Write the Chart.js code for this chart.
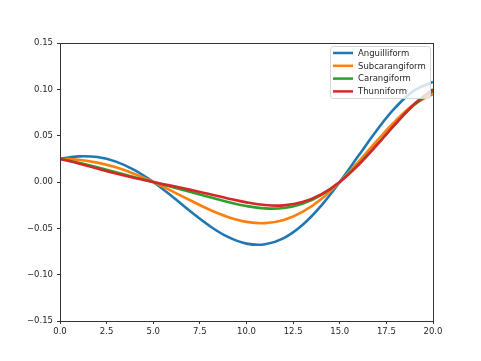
<!DOCTYPE html>
<html>
<head>
<meta charset="utf-8">
<script src="https://cdn.jsdelivr.net/npm/chart.js@4.4.1/dist/chart.umd.min.js"></script>
<style>
  html, body { margin: 0; padding: 0; background: #fff; }
  #wrap { width: 481px; height: 361px; }
</style>
</head>
<body>
<div id="wrap"><canvas id="myChart" width="481" height="361"></canvas></div>
<script>
// sample positions along the body (x axis)
const xs = [0, 1, 2, 3, 4, 5, 6, 7, 8, 9, 10, 11, 12, 13, 14, 15, 16, 17, 18, 19, 20];

// lateral displacement
const anguilliform = [0.025, 0.0277, 0.0269, 0.0220, 0.0129, 0, -0.0154, -0.0318, -0.0471, -0.0593, -0.0665,
    -0.0672, -0.0605, -0.0464, -0.0257, 0, 0.0282, 0.0562, 0.0807, 0.0988, 0.108];
const subcarangiform = [0.025, 0.0240, 0.0209, 0.0158, 0.0087, 0, -0.0098, -0.0200, -0.0297, -0.0377, -0.0430,
    -0.0444, -0.0410, -0.0323, -0.0185, 0, 0.0217, 0.0446, 0.0662, 0.0840, 0.095];
const carangiform = [0.025, 0.0208, 0.0158, 0.0105, 0.0052, 0, -0.0053, -0.0107, -0.0163, -0.0216, -0.0260,
    -0.0285, -0.0281, -0.0236, -0.0143, 0, 0.0188, 0.0405, 0.0630, 0.0833, 0.098];
const thunniform = [0.025, 0.0200, 0.0145, 0.0092, 0.0044, 0, -0.0042, -0.0085, -0.0130, -0.0177, -0.0220,
    -0.0249, -0.0252, -0.0217, -0.0134, 0, 0.0183, 0.0400, 0.0630, 0.0842, 0.100];

const seriesNames = ['Anguilliform', 'Subcarangiform', 'Carangiform', 'Thunniform'];
const seriesData = [anguilliform, subcarangiform, carangiform, thunniform];
const colors = ['#1f77b4', '#ff7f0e', '#2ca02c', '#d62728'];

const xTicks = [0, 2.5, 5, 7.5, 10, 12.5, 15, 17.5, 20];
const yTicks = [-0.15, -0.10, -0.05, 0, 0.05, 0.10, 0.15];

const axisColor = '#333';
const textColor = '#262626';
const font = { family: 'DejaVu Sans', size: 8.5 };

// box around the plot area
const frame = {
    id: 'frame',
    afterDatasetsDraw(chart) {
        const a = chart.chartArea;
        const ctx = chart.ctx;
        ctx.save();
        ctx.strokeStyle = axisColor;
        ctx.lineWidth = 1;
        ctx.strokeRect(Math.round(a.left) + 0.5, Math.round(a.top) + 0.5,
            Math.round(a.right - a.left), Math.round(a.bottom - a.top));
        ctx.restore();
    }
};

// matplotlib style legend in the upper right corner
const boxLegend = {
    id: 'boxLegend',
    afterDraw(chart) {
        const ctx = chart.ctx;
        const a = chart.chartArea;
        const w = 100, h = 52, rowH = 12.8;
        const x0 = Math.round(a.right) - 3 - w, y0 = Math.round(a.top) + 3;
        ctx.save();
        ctx.beginPath();
        ctx.roundRect(x0 + 0.5, y0 + 0.5, w, h, 3);
        ctx.fillStyle = 'rgba(255,255,255,0.8)';
        ctx.fill();
        ctx.strokeStyle = '#d6d6d6';
        ctx.lineWidth = 1;
        ctx.stroke();
        ctx.font = '8.5px "DejaVu Sans"';
        ctx.textBaseline = 'middle';
        chart.data.datasets.forEach((ds, i) => {
            const y = y0 + 7 + i * rowH;
            ctx.strokeStyle = ds.borderColor;
            ctx.lineWidth = 2.5;
            ctx.beginPath();
            ctx.moveTo(x0 + 3, y);
            ctx.lineTo(x0 + 23, y);
            ctx.stroke();
            ctx.fillStyle = textColor;
            ctx.fillText(ds.label, x0 + 28, y + 0.5);
        });
        ctx.restore();
    }
};

const ctx = document.getElementById('myChart').getContext('2d');
new Chart(ctx, {
    type: 'line',
    data: {
        datasets: seriesNames.map((name, i) => ({
            label: name,
            data: xs.map((x, j) => ({ x: x, y: seriesData[i][j] })),
            borderColor: colors[i],
            backgroundColor: colors[i],
            borderWidth: 2.6,
            pointRadius: 0,
            tension: 0.4,
            fill: false,
            order: seriesNames.length - i
        }))
    },
    options: {
        responsive: false,
        animation: false,
        layout: { padding: { left: 0, right: 48, top: 43, bottom: 0 } },
        plugins: {
            legend: { display: false },
            tooltip: { enabled: false }
        },
        scales: {
            x: {
                type: 'linear',
                min: 0,
                max: 20,
                afterBuildTicks: s => { s.ticks = xTicks.map(v => ({ value: v })); },
                afterFit: s => { s.height = 40; },
                grid: { drawOnChartArea: false, drawTicks: true, tickLength: 3, tickColor: axisColor },
                border: { display: false },
                ticks: {
                    color: textColor,
                    font: font,
                    padding: 3,
                    maxRotation: 0,
                    callback: v => v.toFixed(1)
                }
            },
            y: {
                type: 'linear',
                min: -0.15,
                max: 0.15,
                afterBuildTicks: s => { s.ticks = yTicks.map(v => ({ value: v })); },
                afterFit: s => { s.width = 60; },
                grid: { drawOnChartArea: false, drawTicks: true, tickLength: 3, tickColor: axisColor },
                border: { display: false },
                ticks: {
                    color: textColor,
                    font: font,
                    padding: 4,
                    callback: v => (v < 0 ? '\u2212' : '') + Math.abs(v).toFixed(2)
                }
            }
        }
    },
    plugins: [frame, boxLegend]
});
</script>
</body>
</html>
